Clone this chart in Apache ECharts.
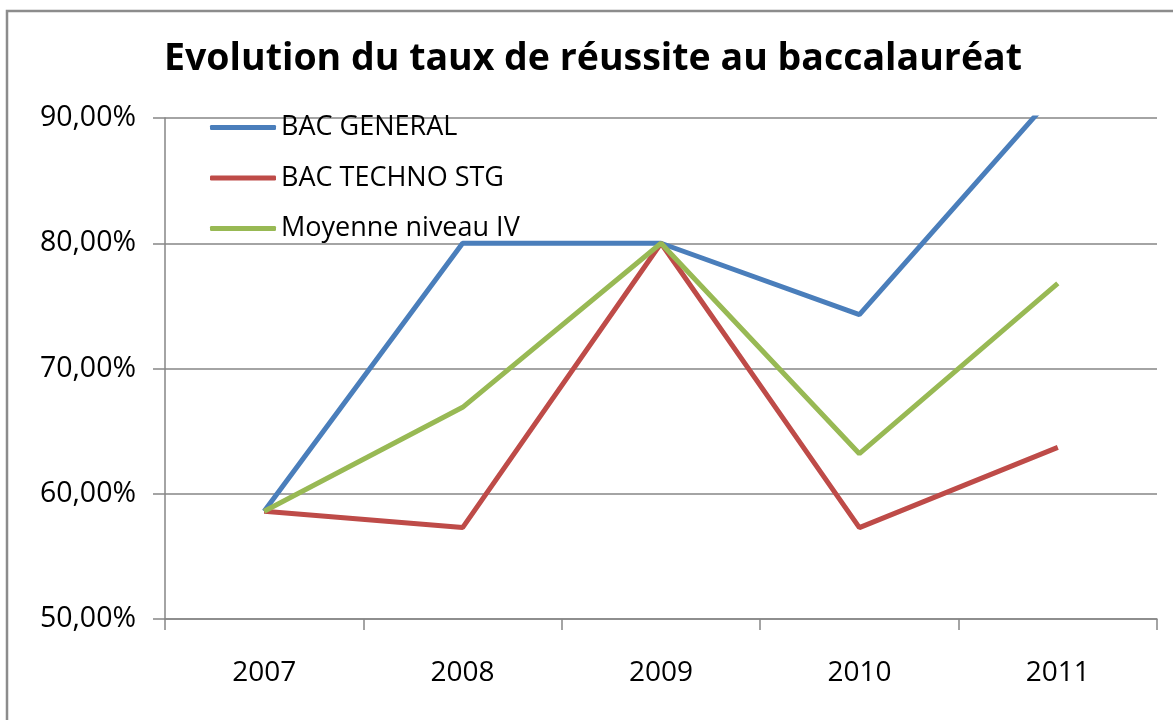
<!DOCTYPE html>
<html>
<head>
<meta charset="utf-8">
<script src="https://cdn.jsdelivr.net/npm/echarts@6/dist/echarts.min.js"></script>
<style>
  html, body { margin: 0; padding: 0; background: #fff; }
  #chart { width: 1173px; height: 720px; }
</style>
</head>
<body>
<div id="chart"></div>
<script>
const years = ['2007', '2008', '2009', '2010', '2011'];
const bacGeneral = [58.6, 80.0, 80.0, 74.3, 92.2];
const bacTechno = [58.6, 57.3, 80.0, 57.3, 63.7];
const moyenneIV = [58.6, 66.9, 80.0, 63.2, 76.8];

const FONT = '"Open Sans", "Liberation Sans", sans-serif';
const fmtPct = (v) => v.toFixed(2).replace('.', ',') + '%';

const chart = echarts.init(document.getElementById('chart'), null, { renderer: 'canvas' });

const lineSeries = (name, data, color) => ({
  name,
  type: 'line',
  data,
  symbol: 'none',
  clip: true,
  lineStyle: { color, width: 5 },
  itemStyle: { color },
});

chart.setOption({
  animation: false,
  backgroundColor: '#fff',
  title: {
    text: 'Evolution du taux de réussite au baccalauréat',
    left: 588,
    top: 35,
    textAlign: 'center',
    textStyle: { fontFamily: FONT, fontWeight: 'bold', fontSize: 37.5, color: '#000' },
  },
  graphic: [{
    type: 'rect',
    shape: { x: 7, y: 11, width: 1200, height: 760 },
    style: { fill: 'none', stroke: '#8c8c8c', lineWidth: 2.5 },
    silent: true,
  }],
  legend: {
    orient: 'vertical',
    left: 205,
    top: 109,
    itemWidth: 66,
    itemHeight: 5,
    itemGap: 23.5,
    icon: 'roundRect',
    textStyle: { fontFamily: FONT, fontSize: 27, color: '#000' },
    data: ['BAC GENERAL', 'BAC TECHNO STG', 'Moyenne niveau IV'],
  },
  grid: { left: 165, right: 16, top: 118, bottom: 101, containLabel: false },
  xAxis: {
    type: 'category',
    data: years,
    boundaryGap: true,
    axisLine: { lineStyle: { color: '#868686', width: 1.5 } },
    axisTick: { show: true, length: 11, inside: false, lineStyle: { color: '#868686', width: 1.5 } },
    axisLabel: { fontFamily: FONT, fontSize: 28, color: '#000', margin: 40 },
    splitLine: { show: false },
  },
  yAxis: {
    type: 'value',
    min: 50,
    max: 90,
    interval: 10,
    axisLine: { show: true, lineStyle: { color: '#868686', width: 1.5 } },
    axisTick: { show: true, length: 12, lineStyle: { color: '#868686', width: 1.5 } },
    axisLabel: { fontFamily: FONT, fontSize: 28.5, color: '#000', margin: 29, formatter: fmtPct },
    splitLine: { show: true, lineStyle: { color: '#868686', width: 1.5 } },
  },
  series: [
    lineSeries('BAC GENERAL', bacGeneral, '#4a7ebb'),
    lineSeries('BAC TECHNO STG', bacTechno, '#be4b48'),
    lineSeries('Moyenne niveau IV', moyenneIV, '#98b954'),
  ],
});
</script>
</body>
</html>
